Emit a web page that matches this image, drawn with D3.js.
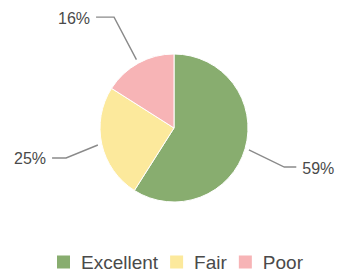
<!DOCTYPE html>
<html>
<head>
<meta charset="utf-8">
<script src="https://cdn.jsdelivr.net/npm/d3@7/dist/d3.min.js"></script>
<style>
html,body{margin:0;padding:0;background:#fff;}
svg{display:block;}
</style>
</head>
<body>
<svg id="chart" width="340" height="273"></svg>
<script>
const categories = ["Excellent", "Fair", "Poor"];
const values = [59, 25, 16];
const labels = ["59%", "25%", "16%"];
const colors = ["#88ad6f", "#fce99c", "#f7b4b6"];

// leader-line layout (elbow radius, angular shift in degrees, horizontal length), per slice
const elbowRadius = [117, 112, 126];
const elbowShift = [3.3, -2.9, 0.4];
const elbowLen = [12, 14, 18];

const cx = 174, cy = 128, R = 74;
const svg = d3.select("#chart");
const g = svg.append("g").attr("transform", `translate(${cx},${cy})`);

const pie = d3.pie().sort(null).value(d => d.v);
const data = categories.map((c, i) => ({c, v: values[i], l: labels[i], col: colors[i], i}));
const arcs = pie(data);
const arc = d3.arc().innerRadius(0).outerRadius(R);

g.selectAll("path.slice").data(arcs).join("path")
  .attr("class", "slice")
  .attr("d", arc)
  .attr("fill", d => d.data.col)
  .attr("stroke", "#fff")
  .attr("stroke-width", 1);

const inner = R + 4, gap = 6;
arcs.forEach(d => {
  const a = (d.startAngle + d.endAngle) / 2;
  const a2 = a + elbowShift[d.data.i] * Math.PI / 180;
  const er = elbowRadius[d.data.i];
  const p0 = [Math.sin(a) * inner, -Math.cos(a) * inner];
  const p1 = [Math.sin(a2) * er, -Math.cos(a2) * er];
  const side = Math.sin(a) >= 0 ? 1 : -1;
  const p2 = [p1[0] + side * elbowLen[d.data.i], p1[1]];
  g.append("polyline")
    .attr("points", [p0, p1, p2].map(p => p.join(",")).join(" "))
    .attr("fill", "none")
    .attr("stroke", "#8a8a8a")
    .attr("stroke-width", 1.4);
  g.append("text")
    .attr("x", p2[0] + side * gap)
    .attr("y", p2[1] + 1)
    .attr("text-anchor", side > 0 ? "start" : "end")
    .attr("dominant-baseline", "central")
    .attr("font-family", "Liberation Sans, Arial, sans-serif")
    .attr("font-size", 16)
    .attr("fill", "#4a4a4a")
    .text(d.data.l);
});

// legend
const legend = svg.append("g");
const legendFont = 19;
let x = 0;
const items = [];
const tmp = svg.append("text").attr("font-family", "Liberation Sans, Arial, sans-serif").attr("font-size", legendFont);
categories.forEach((c, i) => {
  tmp.text(c);
  const w = tmp.node().getComputedTextLength();
  items.push({c, col: colors[i], x, w});
  x += 13 + 11 + w + 12;
});
tmp.remove();
const lx0 = 57;
const ly = 262;
items.forEach(it => {
  legend.append("rect")
    .attr("x", lx0 + it.x).attr("y", ly - 6.5)
    .attr("width", 13).attr("height", 13)
    .attr("fill", it.col);
  legend.append("text")
    .attr("x", lx0 + it.x + 13 + 11)
    .attr("y", ly)
    .attr("dominant-baseline", "central")
    .attr("font-family", "Liberation Sans, Arial, sans-serif")
    .attr("font-size", legendFont)
    .attr("fill", "#4a4a4a")
    .text(it.c);
});
</script>
</body>
</html>
